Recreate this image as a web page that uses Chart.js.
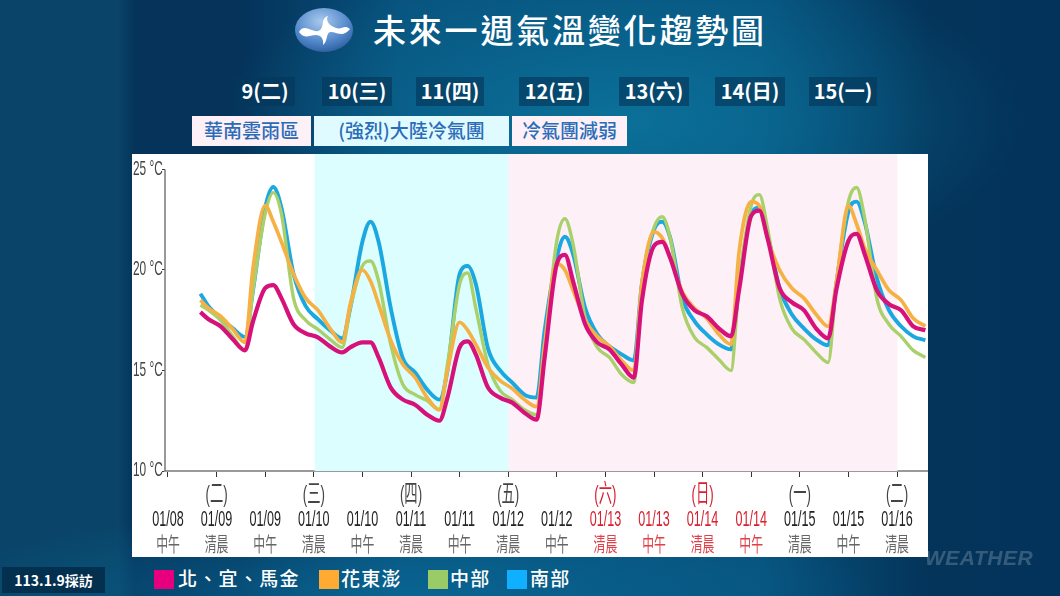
<!DOCTYPE html>
<html lang="zh-Hant">
<head>
<meta charset="utf-8">
<title>未來一週氣溫變化趨勢圖</title>
<script src="https://cdn.jsdelivr.net/npm/chart.js@4"></script>
<style>
  html, body { margin: 0; padding: 0; }
  body {
    width: 1060px; height: 596px; overflow: hidden; position: relative;
    font-family: "Noto Sans CJK TC", "Noto Sans", sans-serif;
    background:
      radial-gradient(ellipse 400px 170px at 620px 120px, rgba(12,120,160,.8), rgba(12,120,160,0) 100%),
      radial-gradient(ellipse 480px 90px at 400px 596px, rgba(10,105,150,.8), rgba(10,105,150,0) 100%),
      linear-gradient(90deg, #0a4468 0, #0a4468 118px, #05335a 135px, #05335a 240px, #07517c 400px, #07537e 760px, #04345a 930px, #03335a 1060px);
  }
  .abs { position: absolute; white-space: nowrap; }
  #title { left: 373px; top: 5px; font-size: 33px; line-height: 48px; letter-spacing: 2.8px; color: #fff; font-weight: 500; }
  #logo { left: 294px; top: 7px; }
  .day { top: 77px; height: 29px; line-height: 27px; background: rgba(4,55,90,.65); color: #fff; font-size: 20px; font-weight: 700; text-align: center; }
  .phase { top: 116px; height: 30px; line-height: 28px; text-align: center; color: #2b6cb8; font-size: 19px; font-weight: 500; }
  #panel { left: 132px; top: 154px; width: 796px; height: 403px; background: #fff; }
  #stamp { left: 2px; top: 567px; width: 103px; height: 26px; line-height: 26px; text-align: center; background: #04304f; color: #fff; font-size: 14px; font-weight: 700; }
  .swatch { top: 570px; width: 20px; height: 19px; }
  .key { top: 563px; line-height: 29px; font-size: 19px; color: #fff; font-weight: 500; letter-spacing: 1.3px; }
  #mark { left: 925px; top: 546px; font: italic 700 21px "Liberation Sans", sans-serif; color: rgba(255,255,255,.2); letter-spacing: .5px; }
</style>
</head>
<body>
<svg id="logo" class="abs" width="60" height="46" viewBox="0 0 60 46">
  <defs>
    <radialGradient id="orb" cx="45%" cy="30%" r="75%">
      <stop offset="0" stop-color="#a9c9ee"/><stop offset=".65" stop-color="#4f86c8"/><stop offset="1" stop-color="#2a5a9a"/>
    </radialGradient>
  </defs>
  <ellipse cx="30" cy="23" rx="29" ry="22" fill="url(#orb)"/>
  <path d="M5 25 C11 15 19 28 26 23 C31 19 26 12 34 9 C31 14 36 19 42 21 C48 23 50 17 56 22 C50 30 44 26 38 25 C31 24 35 33 29 38 C30 32 27 28 22 28 C15 28 11 33 5 25 Z" fill="#fff"/>
</svg>
<div id="title" class="abs">未來一週氣溫變化趨勢圖</div>
<div id="panel" class="abs"><canvas id="chart" width="796" height="403"></canvas></div>
<div id="stamp" class="abs">113.1.9採訪</div>
<div id="mark" class="abs">WEATHER</div>

<script>
// Header rows
const dayLabels = ['9(二)', '10(三)', '11(四)', '12(五)', '13(六)', '14(日)', '15(一)'];
const phaseLabels = ['華南雲雨區', '(強烈)大陸冷氣團', '冷氣團減弱'];
const seriesNames = ['北、宜、馬金', '花東澎', '中部', '南部'];

// Hours counted from 01/08 noon
const hours = [8,10,13,16,19,21,24,26,28,31,34,37,40,43,45,48,50,52,55,58,61,64,67,69,72,74,76,79,82,85,88,
  91,93,96,98,100,103,106,109,112,115,117,120,122,124,127,130,133,136,139,141,144,146,148,151,154,157,160,163,165,168,170,172,175,178,181,184,187];

const north = [17.9,17.55,17.2,16.55,16,17.45,19.1,19.25,18.6,17.3,16.85,16.65,16.2,15.9,16.15,16.4,16.4,15.65,14.15,13.55,13.3,12.8,12.5,13.65,16.15,16.45,15.8,14.15,13.65,13.4,12.9,
  12.55,15.65,20.3,20.75,19.45,17.3,16.4,16.05,15.3,14.65,18.45,21.2,21.4,20.6,18.8,18,17.7,17.1,16.7,19,22.7,22.95,21.6,19.1,18.4,18,17.1,16.6,19,21.45,21.8,20.8,19,18.3,18,17.2,17];
const east = [18.5,18.1,17.7,17.05,16.4,20.1,23.2,22.4,21.4,19.8,18.6,18,17.1,16.4,18.3,20,19.45,18.3,16.5,15.3,14.65,13.65,13.05,15,17.4,17,16.3,15.15,14.5,14.1,13.55,
  13.2,16.3,20.3,20,19,17.5,16.7,16.2,15.5,15,19.3,21.9,21.6,20.6,18.9,18.1,17.6,16.8,16.3,20.9,23.4,23.2,21.6,20,19.1,18.6,17.8,17.2,19.3,23.2,22.3,21.1,20,19,18.5,17.6,17.2];
const central = [18.25,18,17.5,16.7,16,19,22.8,23.85,22.8,18.6,17.5,17.05,16.55,16.15,18.1,20.2,20.45,19.45,16.3,14.3,13.8,13.5,13.05,15.3,19.3,19.85,18.1,15.3,14,13.55,13.05,
  12.8,16.15,21.45,22.55,21.3,17.6,16.15,15.65,14.8,14.4,19.3,22.1,22.65,21.6,18.1,16.65,16.15,15.55,15,19.3,23.2,23.75,22.1,18.6,17.1,16.55,15.9,15.4,19.3,23.4,24.1,22.6,18.6,17.3,16.7,16,15.65];
const south = [18.82,18.2,17.6,17.1,16.67,19,23.1,24.13,23.1,19.8,18.2,17.55,17,16.6,18.1,21.4,22.4,21.4,18.1,15.6,14.9,14.05,13.55,15,19.8,20.2,19.3,16.1,15,14.4,13.8,
  13.65,17,20.6,21.65,20.8,18.1,16.8,16.2,15.8,15.5,19.3,22,22.4,21.6,18.6,17.46,16.8,16.3,16.05,19.3,22.8,23.1,21.8,19.1,17.8,17.1,16.55,16.25,19.3,22.9,23.4,22.4,19.6,18,17.2,16.7,16.5];

// X axis labels, one every 12 hours
const tickHours = [0,12,24,36,48,60,72,84,96,108,120,132,144,156,168,180];
const tickDates = ['01/08','01/09','01/09','01/10','01/10','01/11','01/11','01/12','01/12','01/13','01/13','01/14','01/14','01/15','01/15','01/16'];
const tickParts = ['中午','清晨','中午','清晨','中午','清晨','中午','清晨','中午','清晨','中午','清晨','中午','清晨','中午','清晨'];
const tickDays = ['','(二)','','(三)','','(四)','','(五)','','(六)','','(日)','','(一)','','(二)'];
const redTicks = [9,10,11,12];
const yTicks = [10,15,20,25];

// Shaded periods, in the same hours
const coldBand = [36.2, 84.1];
const weakBand = [84.1, 180.1];

// Page furniture
const dayBoxes = [[235,60],[322,70],[416,68],[519,70],[619,70],[715,70],[809,68]];
dayLabels.forEach((t, i) => {
  const d = document.createElement('div');
  d.className = 'abs day'; d.textContent = t;
  d.style.left = dayBoxes[i][0] + 'px'; d.style.width = dayBoxes[i][1] + 'px';
  document.body.appendChild(d);
});
const phaseBoxes = [[192,119,'#fdf0f6'],[314,195,'#e0fbff'],[512,115,'#fdf0f6']];
phaseLabels.forEach((t, i) => {
  const d = document.createElement('div');
  d.className = 'abs phase'; d.textContent = t;
  d.style.left = phaseBoxes[i][0] + 'px'; d.style.width = phaseBoxes[i][1] + 'px'; d.style.background = phaseBoxes[i][2];
  document.body.appendChild(d);
});
const lineColors = ['#d6127a', '#f6b144', '#a9d06a', '#1ba7e0'];
const keyColors = ['#e6007e', '#ffab33', '#99cc66', '#0fb0ff'];
const keySpots = [[154,178],[319,341],[428,450],[507,530]];
seriesNames.forEach((t, i) => {
  const s = document.createElement('div');
  s.className = 'abs swatch'; s.style.left = keySpots[i][0] + 'px'; s.style.background = keyColors[i];
  document.body.appendChild(s);
  const k = document.createElement('div');
  k.className = 'abs key'; k.textContent = t; k.style.left = keySpots[i][1] + 'px';
  document.body.appendChild(k);
});

const bandsPlugin = {
  id: 'bands',
  beforeDatasetsDraw(chart) {
    const { ctx, scales: { x }, chartArea: a } = chart;
    const fill = (band, color) => {
      const l = x.getPixelForValue(band[0]), r = x.getPixelForValue(band[1]);
      ctx.fillStyle = color;
      ctx.fillRect(l, 0, r - l, a.bottom);
    };
    fill(coldBand, '#dcfeff');
    fill(weakBand, '#fdf0f6');
  }
};

const axisPlugin = {
  id: 'axisText',
  afterDraw(chart) {
    const { ctx, scales: { x, y }, chartArea: a } = chart;
    ctx.save();
    // y axis stops at the 25 degree tick
    ctx.strokeStyle = '#777';
    ctx.lineWidth = 1.5;
    ctx.beginPath();
    ctx.moveTo(a.left, y.getPixelForValue(25));
    ctx.lineTo(a.left, y.getPixelForValue(10));
    ctx.stroke();
    // the labels are condensed and tall, so they get stretched here
    const stretched = (text, font, px, py, sx, sy) => {
      ctx.save();
      ctx.translate(px, py);
      ctx.scale(sx, sy);
      ctx.font = font;
      ctx.fillText(text, 0, 0);
      ctx.restore();
    };
    ctx.textBaseline = 'middle';
    ctx.textAlign = 'left';
    ctx.fillStyle = '#444';
    yTicks.forEach(v => stretched(v + ' °C', '18px "Liberation Sans"', 1, y.getPixelForValue(v), 0.66, 1.1));
    ctx.textAlign = 'center';
    tickHours.forEach((h, i) => {
      const px = x.getPixelForValue(h);
      const red = redTicks.includes(i);
      ctx.fillStyle = red ? '#d8202e' : '#444';
      if (tickDays[i]) stretched(tickDays[i], '14px "Liberation Sans", "Noto Sans CJK TC"', px, 341, 0.95, 1.75);
      ctx.fillStyle = red ? '#d8202e' : '#222';
      stretched(tickDates[i], '17px "Liberation Sans"', px, 366, 0.74, 1.25);
      ctx.fillStyle = red ? '#e0404a' : '#666';
      stretched(tickParts[i], '16px "Noto Sans CJK TC"', px, 390, 0.74, 1.25);
    });
    ctx.restore();
  }
};

const line = (label, data, color, width) => ({
  label, data: data.map((v, i) => ({ x: hours[i], y: v })),
  borderColor: color, borderWidth: width, pointRadius: 0,
  cubicInterpolationMode: 'monotone', fill: false
});

new Chart(document.getElementById('chart').getContext('2d'), {
  type: 'line',
  data: {
    datasets: [
      line(seriesNames[0], north, lineColors[0], 4.2),
      line(seriesNames[1], east, lineColors[1], 3.7),
      line(seriesNames[2], central, lineColors[2], 3.4),
      line(seriesNames[3], south, lineColors[3], 3.9)
    ]
  },
  options: {
    responsive: false,
    animation: false,
    devicePixelRatio: 1,
    layout: { padding: 0 },
    plugins: { legend: { display: false }, tooltip: { enabled: false } },
    scales: {
      x: {
        type: 'linear', min: -0.74, max: 187.65,
        afterBuildTicks: s => { s.ticks = tickHours.map(v => ({ value: v })); },
        afterFit: s => { s.height = 86; },
        ticks: { display: false, autoSkip: false },
        grid: { drawOnChartArea: false, drawTicks: true, tickLength: 6, color: '#333', lineWidth: 1 },
        border: { display: true, color: '#999', width: 2 }
      },
      y: {
        type: 'linear', min: 10, max: 25.77,
        afterBuildTicks: s => { s.ticks = yTicks.map(v => ({ value: v })); },
        afterFit: s => { s.width = 33; },
        ticks: { display: false, autoSkip: false },
        grid: { drawOnChartArea: false, drawTicks: true, tickLength: 3, color: '#333' },
        border: { display: false }
      }
    }
  },
  plugins: [bandsPlugin, axisPlugin]
});
</script>
</body>
</html>
